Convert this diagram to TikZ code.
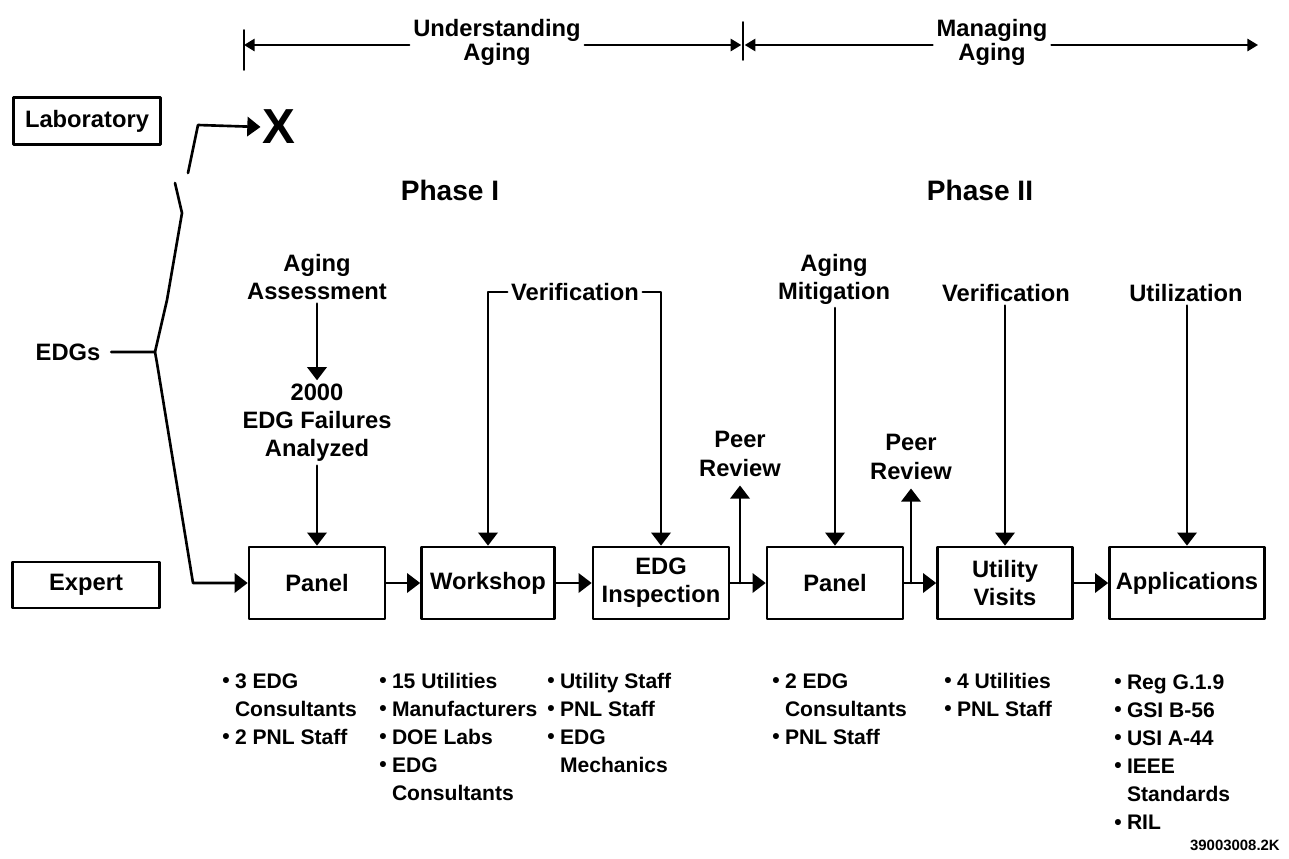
\documentclass[tikz,border=0pt]{standalone}
\usepackage{fontspec}
\setmainfont{Liberation Sans}
\usepackage{graphicx}
\usetikzlibrary{arrows.meta,positioning}
\newcommand{\itm}{\raisebox{.3pt}{\scalebox{1}{\textbullet}}}
\newcommand{\blist}[1]{\begin{tabular}[t]{@{}l@{\hspace{3pt}}l@{}}#1\end{tabular}}

\begin{document}
\begin{tikzpicture}[x=.02cm,y=-.02cm,line cap=round,line join=round,
 font=\bfseries\fontsize{13.5}{16}\selectfont,
 blk/.style={draw,line width=1.5pt,minimum height=1.44cm,align=center,inner sep=2pt},
 lbl/.style={align=center,inner sep=2pt},
 toplbl/.style={align=center,inner sep=2pt,font=\bfseries\fontsize{13.5}{12.5}\selectfont},
 phase/.style={font=\bfseries\fontsize{16}{18}\selectfont},
 lst/.style={anchor=base west,inner sep=0pt,font=\bfseries\fontsize{12}{16}\selectfont},
 ln/.style={line width=1.5pt},
 arr/.style={line width=1.5pt,-{Triangle[length=7.5pt,width=11pt]}},
 tarr/.style={line width=1pt,-{Triangle[length=6pt,width=7pt]}}]
 \useasboundingbox (0,0) rectangle (1289,859);
 \node[blk,minimum width=2.94cm,minimum height=.94cm] (lab) at (87,121) {Laboratory};
 \node[blk,minimum width=2.94cm,minimum height=.92cm] (expert) at (86,585) {Expert};
 \node[lbl,inner xsep=6pt] (edgs) at (68,352) {EDGs};
 \node[font=\bfseries\fontsize{28}{28}\selectfont,inner sep=1pt] (xmark) at (279,127) {X};
 \node[toplbl] (und) at (497,42) {Understanding\\Aging};
 \node[toplbl] (mng) at (992,42) {Managing\\Aging};
 \coordinate (tkL) at (244,45);
 \coordinate (tkM) at (743,45);
 \draw[line width=1pt] (244,30) -- (244,70);
 \draw[line width=1pt] (743,22) -- (743,60);
 \draw[tarr] (und.west |- tkL) -- (tkL);
 \draw[tarr] (und.east |- tkL) -- ([xshift=-1pt]tkM);
 \draw[tarr] (mng.west |- tkM) -- ([xshift=1pt]tkM);
 \draw[tarr] (mng.east |- tkM) -- (1258,45);
 \node[phase] (ph1) at (450,190) {Phase I};
 \node[phase] (ph2) at (980,190) {Phase II};
 \foreach \nm/\x/\w/\txt in {pnlA/317/2.72/Panel,wksp/488/2.66/Workshop,
   insp/661/2.72/{EDG\\Inspection},pnlB/835/2.72/Panel,
   vis/1005/2.70/{Utility\\Visits},apps/1187/3.10/Applications}
  \node[blk,minimum width=\w cm] (\nm) at (\x,583) {\txt};
 \coordinate (jn) at (155,352);
 \draw[ln] (edgs.east) -- (jn) -- (167,300) -- (182,213) -- (175,183);
 \draw[arr] (188,173) -- (198,125) -- (xmark.west);
 \draw[arr] (jn) -- (157,363) -- (193,583) -- (pnlA.west);
 \node[lbl] (asmt) at (317,277) {Aging\\Assessment};
 \node[lbl] (fail) at (317,423) {2000\\EDG Failures\\Analyzed};
 \draw[arr] (asmt.south) -- (fail.north);
 \draw[arr] (fail.south) -- (pnlA.north);
 \node[lbl] (ver1) at (575,292) {Verification};
 \draw[arr] (ver1.west) -| (wksp.north);
 \draw[arr] (ver1.east) -| (insp.north);
 \node[lbl] (mit) at (834,279) {Aging\\Mitigation};
 \draw[arr] (pnlB.north |- mit.south) -- (pnlB.north);
 \node[lbl] (ver2) at (1006,293) {Verification};
 \draw[arr] (vis.north |- ver2.south) -- (vis.north);
 \node[lbl] (util) at (1186,293) {Utilization};
 \draw[arr] (apps.north |- util.south) -- (apps.north);
 \node[lbl,inner ysep=5pt] (peer1) at (740,454) {Peer\\Review};
 \node[lbl,inner ysep=5pt] (peer2) at (911,457) {Peer\\Review};
 \draw[arr] (pnlA) -- (wksp);
 \draw[arr] (wksp) -- (insp);
 \draw[arr] (insp) -- (pnlB);
 \draw[arr] (peer1.south |- insp.east) -- (peer1.south);
 \draw[arr] (pnlB) -- (vis);
 \draw[arr] (peer2.south |- pnlB.east) -- (peer2.south);
 \draw[arr] (vis) -- (apps);
 \node[lst] (lsA) at (222,688) {\blist{\itm&3 EDG\\&Consultants\\\itm&2 PNL Staff}};
 \node[lst] (lsB) at (379,688) {\blist{\itm&15 Utilities\\\itm&Manufacturers\\\itm&DOE Labs\\\itm&EDG\\&Consultants}};
 \node[lst] (lsC) at (547,688) {\blist{\itm&Utility Staff\\\itm&PNL Staff\\\itm&EDG\\&Mechanics}};
 \node[lst] (lsD) at (772,688) {\blist{\itm&2 EDG\\&Consultants\\\itm&PNL Staff}};
 \node[lst] (lsE) at (944,688) {\blist{\itm&4 Utilities\\\itm&PNL Staff}};
 \node[lst] (lsF) at (1114,689) {\blist{\itm&Reg G.1.9\\\itm&GSI B-56\\\itm&USI A-44\\\itm&IEEE\\&Standards\\\itm&RIL}};
 \node[anchor=east,font=\bfseries\fontsize{8.5}{10}\selectfont] (fig) at (1286,845) {39003008.2K};
\end{tikzpicture}
\end{document}
